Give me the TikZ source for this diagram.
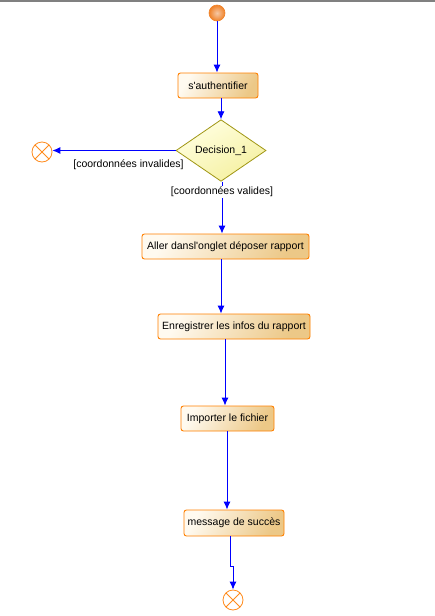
\documentclass[tikz,border=0pt]{standalone}
\usepackage{fontspec}
\setmainfont{Liberation Sans}[Ligatures=TeXOff]
\usetikzlibrary{shapes.geometric,arrows.meta,calc}
\definecolor{boxborder}{RGB}{255,128,0}
\definecolor{boxlight}{RGB}{255,250,240}
\definecolor{boxdark}{RGB}{236,200,135}
\definecolor{decborder}{RGB}{160,150,20}
\definecolor{declight}{RGB}{255,255,225}
\definecolor{decdark}{RGB}{245,240,160}
\definecolor{flowblue}{RGB}{0,0,255}
\definecolor{startorange}{RGB}{240,130,40}
\definecolor{startlight}{RGB}{245,200,165}
\definecolor{endorange}{RGB}{255,140,30}
\tikzset{
  actbox/.style={draw=boxborder, line width=0.9pt, rounded corners=2.5pt,
    top color=boxlight, bottom color=boxdark, shading angle=60,
    minimum height=25pt, inner sep=0pt, font=\fontsize{10.5}{12}\selectfont},
  decbox/.style={diamond, draw=decborder, line width=0.8pt,
    top color=declight, bottom color=decdark, shading angle=30,
    minimum width=90pt, minimum height=53pt, inner sep=0pt,
    font=\fontsize{10.5}{12}\selectfont},
  startnode/.style={circle, draw=startorange, line width=0.6pt,
    inner color=startlight, outer color=startorange, minimum size=16pt, inner sep=0pt},
  endnode/.style={circle, draw=endorange, line width=0.8pt, fill=white,
    minimum size=20pt, inner sep=0pt, path picture={
      \draw[endorange, line width=0.8pt]
        (path picture bounding box.north west) -- (path picture bounding box.south east)
        (path picture bounding box.north east) -- (path picture bounding box.south west);}},
  flow/.style={draw=flowblue, line width=0.9pt, -{Latex[length=8pt,width=7pt]}},
  guard/.style={font=\fontsize{10.5}{12}\selectfont, inner sep=1pt, fill=white},
}
\begin{document}
\begin{tikzpicture}[x=1pt,y=-1pt]
\useasboundingbox (0,0) rectangle (435,616);
\fill[white] (0,0) rectangle (435,616);
\fill[gray] (0,0) rectangle (435,1.5);

\node[startnode] (start) at (217,13) {};
\node[actbox, minimum width=80pt] (auth) at (218,85.5) {s'authentifier};
\node[decbox] (dec) at (221,150.5) {Decision\_1};
\node[endnode] (end1) at (42,152) {};
\node[actbox, minimum width=167pt] (aller) at (225.5,246.5) {Aller dansl'onglet déposer rapport};
\node[actbox, minimum width=152pt] (enreg) at (234,326.5) {Enregistrer les infos du rapport};
\node[actbox, minimum width=93pt] (import) at (227.5,418.5) {Importer le fichier};
\node[actbox, minimum width=100pt, minimum height=26pt] (msg) at (234,523) {message de succès};
\node[endnode] (end2) at (233,600) {};

\draw[flow] (start.south) -- (start.south |- auth.north);
\draw[flow] (auth.south -| dec.north) -- (dec.north);
\draw[flow] (dec.west) -- (dec.west -| end1.east);
\draw[flow] ([xshift=1pt]dec.south) -- ([xshift=1pt]dec.south |- aller.north);
\draw[flow] ([xshift=-4.5pt]aller.south) -- ([xshift=-4.5pt]aller.south |- enreg.north);
\draw[flow] ([xshift=-9pt]enreg.south) -- ([xshift=-9pt]enreg.south |- import.north);
\draw[flow] ([xshift=-0.5pt]import.south) -- ([xshift=-0.5pt]import.south |- msg.north);
\draw[flow] ([xshift=-4pt]msg.south) -- ++(0,30) -| (end2.north);

\node[guard] (ginv) at (128.5,165) {[coordonnées invalides]};
\node[guard] (gval) at (222,192) {[coordonnées valides]};
\end{tikzpicture}
\end{document}
